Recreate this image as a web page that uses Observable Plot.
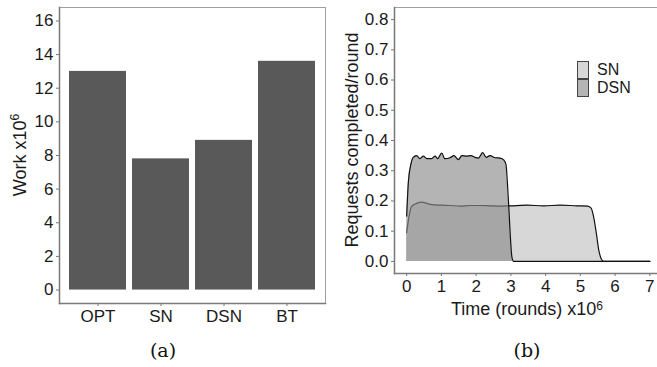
<!DOCTYPE html>
<html><head><meta charset="utf-8">
<script src="https://cdn.jsdelivr.net/npm/d3@7"></script>
<script src="https://cdn.jsdelivr.net/npm/@observablehq/plot@0.6"></script>
<style>
body{margin:0;background:#fff;}
#wrap{position:relative;width:657px;height:367px;overflow:hidden;font-family:"Liberation Sans",Arial,sans-serif;color:#1a1a1a;}
.panel{position:absolute;top:0;}
.cap{position:absolute;font-family:"DejaVu Serif",serif;font-size:19px;transform:translate(-50%,-50%);color:#111;}
#legend{position:absolute;left:577px;top:61px;font-size:16px;}
.row{display:flex;align-items:center;height:18px;}
.row span{display:block;height:18px;line-height:18px;}
.key{width:10px;height:16px;border:1px solid #444;box-sizing:content-box;margin-right:8px;}
</style></head><body><div id="wrap"></div>
<script>
// Panel (a)
const methods = ["OPT", "SN", "DSN", "BT"];
const work = [13.0, 7.8, 8.9, 13.6];
const workTicks = [0, 2, 4, 6, 8, 10, 12, 14, 16];

// Panel (b)
const seriesNames = ["SN", "DSN"];
const seriesFill = ["#d7d7d7", "#b4b4b4"];
const timeTicks = [0, 1, 2, 3, 4, 5, 6, 7];
const rateTicks = [0, 0.1, 0.2, 0.3, 0.4, 0.5, 0.6, 0.7, 0.8];
const dsnTime = [0, 0.05, 0.12, 0.19, 0.29, 0.38, 0.48, 0.58, 0.72, 0.82, 0.89, 1.01, 1.10, 1.25, 1.36, 1.49, 1.59, 1.73, 1.85, 1.97, 2.07, 2.19, 2.29, 2.40, 2.55, 2.69, 2.80, 2.86, 2.90, 2.94, 2.98, 3.03, 3.08, 7.0];
const dsnRate = [0.15, 0.264, 0.32, 0.344, 0.35, 0.34, 0.348, 0.34, 0.34, 0.348, 0.34, 0.358, 0.34, 0.343, 0.35, 0.337, 0.35, 0.348, 0.35, 0.344, 0.342, 0.36, 0.344, 0.35, 0.343, 0.342, 0.335, 0.32, 0.26, 0.18, 0.092, 0.014, 0, 0];
const snTime = [0, 0.075, 0.14, 0.29, 0.43, 0.58, 0.72, 0.96, 1.25, 1.54, 1.83, 2.11, 2.40, 2.69, 2.98, 3.46, 3.94, 4.42, 4.90, 5.21, 5.31, 5.38, 5.46, 5.53, 5.60, 5.67, 7.0];
const snRate = [0.095, 0.153, 0.181, 0.192, 0.196, 0.192, 0.188, 0.186, 0.185, 0.183, 0.185, 0.185, 0.184, 0.183, 0.184, 0.186, 0.184, 0.186, 0.184, 0.183, 0.176, 0.148, 0.093, 0.037, 0.009, 0, 0];

const wrap = document.getElementById("wrap");
const barData = methods.map((m, i) => ({m, v: work[i]}));
const dsn = dsnTime.map((t, i) => ({t, r: dsnRate[i]}));
const sn = snTime.map((t, i) => ({t, r: snRate[i]}));

const axisStyle = {tickSize: 3, tickPadding: 3, stroke: "#777", fill: "#1a1a1a", label: null};

function bigTicks(svg) {
  d3.select(svg).selectAll("text")
    .style("font-size", "17px")
    .style("font-family", "'Liberation Sans', Arial, sans-serif");
}

const plotA = Plot.plot({
  width: 330, height: 325,
  marginLeft: 59, marginRight: 5, marginTop: 7, marginBottom: 22,
  style: {fontFamily: "Liberation Sans, Arial, sans-serif", background: "transparent", overflow: "visible"},
  x: {domain: methods, paddingInner: 0.1, paddingOuter: 0.15},
  y: {domain: [-0.8, 16.8]},
  marks: [
    Plot.barY(barData, {x: "m", y: "v", fill: "#595959"}),
    Plot.frame({stroke: "#a0a0a0"}),
    Plot.frame({anchor: "left", stroke: "#7a7a7a", strokeWidth: 1.5}),
    Plot.frame({anchor: "bottom", stroke: "#7a7a7a", strokeWidth: 1.5}),
    Plot.axisX({...axisStyle}),
    Plot.axisY({...axisStyle, ticks: workTicks})
  ]
});
plotA.classList.add("panel");
plotA.style.left = "0px";
wrap.appendChild(plotA);
bigTicks(plotA);
{
  const t = d3.select(plotA).append("text")
    .attr("transform", "translate(20,155) rotate(-90)")
    .attr("text-anchor", "middle").attr("dominant-baseline", "central")
    .style("font-size", "18px").attr("fill", "#1a1a1a");
  t.append("tspan").text("Work x10");
  t.append("tspan").attr("dy", "-0.45em").style("font-size", "12px").text("6");
}

const plotB = Plot.plot({
  width: 340, height: 325,
  marginLeft: 64, marginRight: 8.5, marginTop: 7, marginBottom: 52,
  style: {fontFamily: "Liberation Sans, Arial, sans-serif", background: "transparent"},
  x: {domain: [-0.35, 7.35]},
  y: {domain: [-0.04, 0.84]},
  marks: [
    Plot.areaY(sn, {x: "t", y: "r", fill: seriesFill[0], curve: "monotone-x"}),
    Plot.lineY(sn, {x: "t", y: "r", stroke: "#111", strokeWidth: 1.2, curve: "monotone-x"}),
    Plot.areaY(dsn, {x: "t", y: "r", fill: "#8c8c8c", fillOpacity: 0.65, curve: "monotone-x"}),
    Plot.lineY(dsn, {x: "t", y: "r", stroke: "#111", strokeWidth: 1.2, curve: "monotone-x"}),
    Plot.frame({stroke: "#a0a0a0"}),
    Plot.frame({anchor: "left", stroke: "#7a7a7a", strokeWidth: 1.5}),
    Plot.frame({anchor: "bottom", stroke: "#7a7a7a", strokeWidth: 1.5}),
    Plot.axisX({...axisStyle, ticks: timeTicks}),
    Plot.axisY({...axisStyle, ticks: rateTicks, tickFormat: d3.format(".1f")})
  ]
});
plotB.classList.add("panel");
plotB.style.left = "330px";
wrap.appendChild(plotB);
bigTicks(plotB);
{
  const t = d3.select(plotB).append("text")
    .attr("x", 197).attr("y", 315)
    .attr("text-anchor", "middle")
    .style("font-size", "18px").attr("fill", "#1a1a1a");
  t.append("tspan").text("Time (rounds) x10");
  t.append("tspan").attr("dy", "-0.45em").style("font-size", "12px").text("6");
  d3.select(plotB).append("text")
    .attr("transform", "translate(22,140) rotate(-90)")
    .attr("text-anchor", "middle").attr("dominant-baseline", "central")
    .style("font-size", "18px").attr("fill", "#1a1a1a")
    .text("Requests completed/round");
}

// legend
const lg = document.createElement("div");
lg.id = "legend";
seriesNames.forEach((n, i) => {
  const row = document.createElement("div");
  row.className = "row";
  const k = document.createElement("div");
  k.className = "key";
  k.style.background = seriesFill[i];
  const s = document.createElement("span");
  s.textContent = n;
  row.appendChild(k); row.appendChild(s);
  lg.appendChild(row);
});
wrap.appendChild(lg);

// captions
[["(a)", 163], ["(b)", 527]].forEach(([txt, x]) => {
  const c = document.createElement("div");
  c.className = "cap";
  c.style.left = x + "px";
  c.style.top = "350px";
  c.textContent = txt;
  wrap.appendChild(c);
});
</script></body></html>
